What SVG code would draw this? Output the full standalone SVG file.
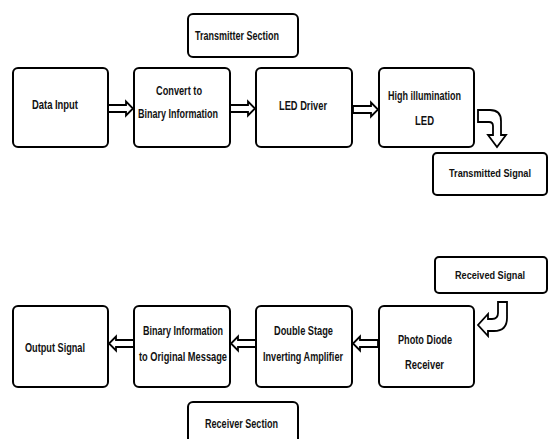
<svg xmlns="http://www.w3.org/2000/svg" width="551" height="439" viewBox="0 0 551 439">
<style>
.box{fill:#fff;stroke:#000;stroke-width:2}
.arr{fill:#fff;stroke:#000;stroke-width:1.8;stroke-linejoin:miter}
text{font-family:"Liberation Sans",Arial,sans-serif;font-weight:bold;font-size:13px;fill:#111;text-anchor:middle;dominant-baseline:central}
text.sm{font-size:11.5px}
</style>
<rect width="551" height="439" fill="#fff"/>
<g id="connectors">
<path class="arr" d="M108,105 L126,105 L126,101.5 L133,108.5 L126,115.5 L126,112 L108,112 Z"/>
<path class="arr" d="M230,105 L248,105 L248,101.5 L255,108.5 L248,115.5 L248,112 L230,112 Z"/>
<path class="arr" d="M353,106 L371,106 L371,102.5 L378,109.5 L371,116.5 L371,113 L353,113 Z"/>
<path class="arr" d="M478,110 L490,110 Q501,110 501,121 L501,135 L506,135 L497,147 L488,135 L493,135 L493,126 Q493,122 489,122 L478,122 Z"/>
<path class="arr" d="M498,302 L507,302 L507,318 Q507,331 494,331 L488,331 L488,336 L478,325 L488,314 L488,319 L492,319 Q498,319 498,313 Z"/>
<path class="arr" d="M378,340 L360,340 L360,336.5 L353,343.5 L360,350.5 L360,347 L378,347 Z"/>
<path class="arr" d="M256,340 L238,340 L238,336.5 L231,343.5 L238,350.5 L238,347 L256,347 Z"/>
<path class="arr" d="M134,340 L116,340 L116,336.5 L109,343.5 L116,350.5 L116,347 L134,347 Z"/>
</g>
<g id="transmitter-section"><rect class="box" x="188" y="14" width="110" height="43" rx="5"/><text x="237" y="35" textLength="84" lengthAdjust="spacingAndGlyphs">Transmitter Section</text></g>
<g id="data-input"><rect class="box" x="13" y="68" width="95" height="79" rx="5"/><text x="55" y="104" textLength="46" lengthAdjust="spacingAndGlyphs">Data Input</text></g>
<g id="convert"><rect class="box" x="134" y="68" width="96" height="79" rx="5"/><text x="179" y="90" textLength="46" lengthAdjust="spacingAndGlyphs">Convert to</text><text x="178" y="113" textLength="80" lengthAdjust="spacingAndGlyphs">Binary Information</text></g>
<g id="led-driver"><rect class="box" x="256" y="68" width="96" height="79" rx="5"/><text x="303" y="105" textLength="48" lengthAdjust="spacingAndGlyphs">LED Driver</text></g>
<g id="high-led"><rect class="box" x="379" y="68" width="95" height="79" rx="5"/><text x="424.5" y="95" textLength="73" lengthAdjust="spacingAndGlyphs">High illumination</text><text x="424.5" y="120" textLength="19" lengthAdjust="spacingAndGlyphs">LED</text></g>
<g id="transmitted-signal"><rect class="box" x="433" y="153" width="114" height="42" rx="4"/><text class="sm" x="490" y="173" textLength="82" lengthAdjust="spacingAndGlyphs">Transmitted Signal</text></g>
<g id="received-signal"><rect class="box" x="435" y="257" width="112" height="36" rx="4"/><text class="sm" x="490" y="275" textLength="70" lengthAdjust="spacingAndGlyphs">Received Signal</text></g>
<g id="output-signal"><rect class="box" x="13" y="306" width="95" height="81" rx="5"/><text x="55" y="347" textLength="60" lengthAdjust="spacingAndGlyphs">Output Signal</text></g>
<g id="binary-to-message"><rect class="box" x="134" y="306" width="96" height="81" rx="5"/><text x="183" y="330" textLength="80" lengthAdjust="spacingAndGlyphs">Binary Information</text><text x="183" y="356" textLength="88" lengthAdjust="spacingAndGlyphs">to Original Message</text></g>
<g id="double-stage"><rect class="box" x="256" y="306" width="96" height="81" rx="5"/><text x="303.5" y="330" textLength="59" lengthAdjust="spacingAndGlyphs">Double Stage</text><text x="303" y="356" textLength="80" lengthAdjust="spacingAndGlyphs">Inverting Amplifier</text></g>
<g id="photo-diode"><rect class="box" x="379" y="306" width="95" height="81" rx="5"/><text x="425" y="339" textLength="54" lengthAdjust="spacingAndGlyphs">Photo Diode</text><text x="424.5" y="364" textLength="39" lengthAdjust="spacingAndGlyphs">Receiver</text></g>
<g id="receiver-section"><rect class="box" x="188" y="402" width="110" height="45" rx="5"/><text x="241.5" y="423" textLength="73" lengthAdjust="spacingAndGlyphs">Receiver Section</text></g>
</svg>
